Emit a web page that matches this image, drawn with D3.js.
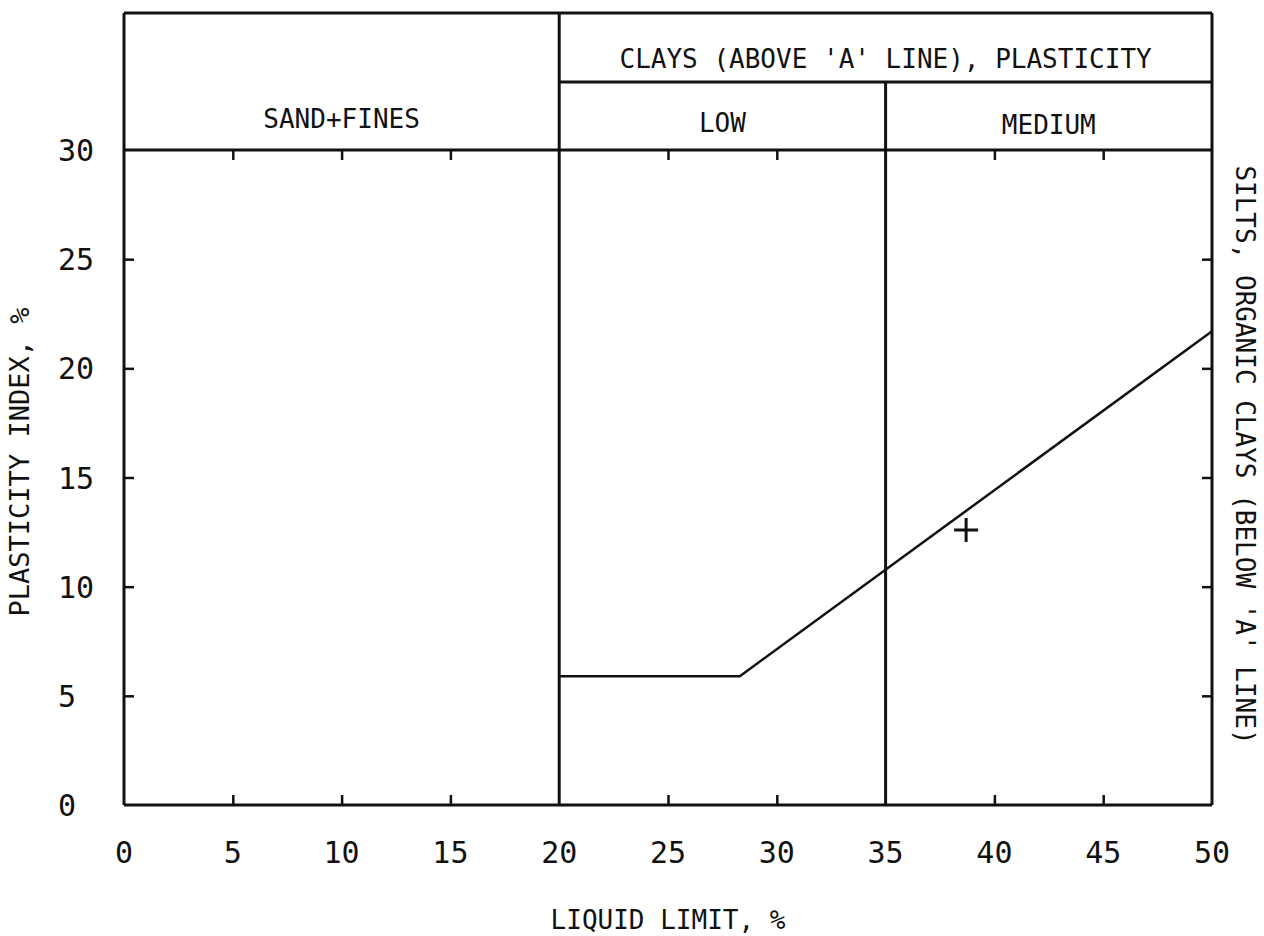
<!DOCTYPE html>
<html>
  <head>
    <meta charset="UTF-8">
    <style>
      body {
        margin: 0;
        background: #fff;
      }

      text {
        font-family: "DejaVu Sans Mono", monospace;
        fill: #111;
      }

      .label {
        font-size: 26px;
      }

      .tick-label {
        font-size: 30px;
      }

      .frame {
        stroke: #111;
        stroke-width: 3;
        fill: none;
      }
    </style>
    <script src="https://d3js.org/d3.v7.min.js"></script>
  </head>

  <body>
    <svg id="chart"></svg>

    <script type="text/javascript">
      // x ticks / labels (liquid limit, %)
      let xLabels = [0, 5, 10, 15, 20, 25, 30, 35, 40, 45, 50]
      let xMinorTicks = [5, 10, 15, 25, 30, 40, 45]
      // y ticks / labels (plasticity index, %)
      let yLabels = [0, 5, 10, 15, 20, 25, 30]
      let yMinorTicks = [5, 10, 15, 20, 25]

      // zone boundaries on the liquid limit axis
      let zoneBounds = [20, 35]

      // 'A' line
      let aLineLL = [20, 28.3, 50]
      let aLinePI = [5.9, 5.9, 21.7]

      // sample
      let sampleLL = [38.7]
      let samplePI = [12.6]

      let headerTexts = ['SAND+FINES', "CLAYS (ABOVE 'A' LINE), PLASTICITY", 'LOW', 'MEDIUM']

      let width = 1264
      let height = 936

      let svg = d3.select('#chart')
        .attr('width', width)
        .attr('height', height)

      let x = d3.scaleLinear().domain([0, 50]).range([124, 1212])
      let y = d3.scaleLinear().domain([0, 30]).range([805, 150])

      let headerTop = y(30) - 137
      let headerMid = y(30) - 68

      // frame and zone lines
      let lines = [
        [x(0), y(0), x(50), y(0)],
        [x(0), y(30), x(50), y(30)],
        [x(0), headerTop, x(50), headerTop],
        [x(20), headerMid, x(50), headerMid],
        [x(0), y(0), x(0), headerTop],
        [x(50), y(0), x(50), headerTop],
        [x(zoneBounds[0]), y(0), x(zoneBounds[0]), headerTop],
        [x(zoneBounds[1]), y(0), x(zoneBounds[1]), headerMid]
      ]

      svg.append('g')
        .selectAll('line')
        .data(lines)
        .join('line')
          .attr('class', 'frame')
          .attr('x1', d => d[0])
          .attr('y1', d => d[1])
          .attr('x2', d => d[2])
          .attr('y2', d => d[3])

      // tick marks on all four sides
      let tickLen = 10
      function strip(g) {
        g.select('.domain').remove()
        g.selectAll('.tick line').attr('stroke', '#111').attr('stroke-width', 2.5)
      }

      svg.append('g')
        .attr('transform', `translate(0, ${y(0)})`)
        .call(d3.axisBottom(x).tickValues(xMinorTicks).tickSize(-tickLen).tickFormat(''))
        .call(strip)

      svg.append('g')
        .attr('transform', `translate(0, ${y(30)})`)
        .call(d3.axisTop(x).tickValues(xMinorTicks).tickSize(-tickLen).tickFormat(''))
        .call(strip)

      svg.append('g')
        .attr('transform', `translate(${x(0)}, 0)`)
        .call(d3.axisLeft(y).tickValues(yMinorTicks).tickSize(-tickLen).tickFormat(''))
        .call(strip)

      svg.append('g')
        .attr('transform', `translate(${x(50)}, 0)`)
        .call(d3.axisRight(y).tickValues(yMinorTicks).tickSize(-tickLen).tickFormat(''))
        .call(strip)

      // tick labels
      svg.append('g')
        .selectAll('text')
        .data(xLabels)
        .join('text')
          .attr('class', 'tick-label')
          .attr('x', d => x(d))
          .attr('y', y(0) + 58)
          .attr('text-anchor', 'middle')
          .text(d => d)

      svg.append('g')
        .selectAll('text')
        .data(yLabels)
        .join('text')
          .attr('class', 'tick-label')
          .attr('x', 58)
          .attr('y', d => y(d) + 11)
          .attr('text-anchor', 'start')
          .text(d => d)

      // header texts
      let header = svg.append('g').attr('class', 'label')
      header.append('text')
        .attr('x', (x(0) + x(20)) / 2)
        .attr('y', y(30) - 22)
        .attr('text-anchor', 'middle')
        .text(headerTexts[0])
      header.append('text')
        .attr('x', (x(20) + x(50)) / 2)
        .attr('y', headerMid - 14)
        .attr('text-anchor', 'middle')
        .text(headerTexts[1])
      header.append('text')
        .attr('x', (x(20) + x(35)) / 2)
        .attr('y', y(30) - 18)
        .attr('text-anchor', 'middle')
        .text(headerTexts[2])
      header.append('text')
        .attr('x', (x(35) + x(50)) / 2)
        .attr('y', y(30) - 16)
        .attr('text-anchor', 'middle')
        .text(headerTexts[3])

      // axis titles
      svg.append('text')
        .attr('class', 'label')
        .attr('x', x(25))
        .attr('y', 929)
        .attr('text-anchor', 'middle')
        .text('LIQUID LIMIT, %')

      svg.append('text')
        .attr('class', 'label')
        .attr('transform', 'translate(29, 462) rotate(-90)')
        .attr('text-anchor', 'middle')
        .style('font-size', '27px')
        .text('PLASTICITY INDEX, %')

      svg.append('text')
        .attr('class', 'label')
        .attr('transform', 'translate(1236, 455) rotate(90)')
        .attr('text-anchor', 'middle')
        .text("SILTS, ORGANIC CLAYS (BELOW 'A' LINE)")

      // 'A' line
      let aLine = d3.line()
        .x((d, i) => x(aLineLL[i]))
        .y(d => y(d))

      svg.append('path')
        .attr('d', aLine(aLinePI))
        .attr('fill', 'none')
        .attr('stroke', '#111')
        .attr('stroke-width', 2.5)

      // sample marker
      let plus = d3.symbol().type(d3.symbolCross)
      svg.append('g')
        .selectAll('path')
        .data(sampleLL)
        .join('path')
          .attr('d', 'M-12,0H12M0,-12V12')
          .attr('transform', (d, i) => `translate(${x(d)}, ${y(samplePI[i])})`)
          .attr('stroke', '#111')
          .attr('stroke-width', 3)
          .attr('fill', 'none')
    </script>
  </body>
</html>
